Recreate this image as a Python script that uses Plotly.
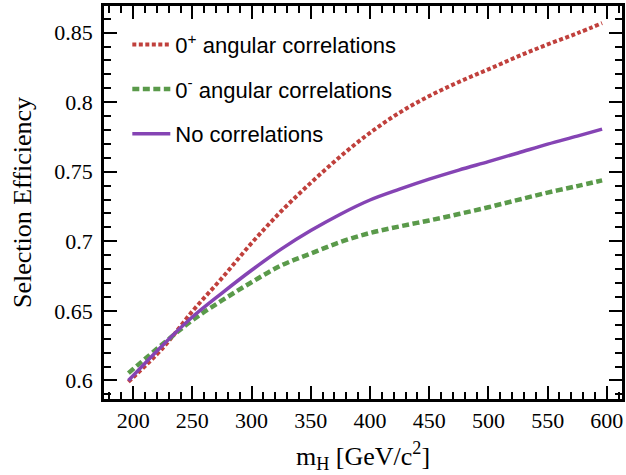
import plotly.graph_objects as go

# Higgs mass points [GeV/c^2]
mass = [196, 225, 250, 275, 300, 325, 350, 375, 400, 425, 450, 475, 500, 525, 550, 575, 596]

# Selection efficiency for each spin/parity hypothesis
eff_plus = [0.599, 0.6233, 0.6497, 0.6736, 0.6987, 0.7216, 0.7420, 0.7610, 0.7780,
            0.7925, 0.8044, 0.8145, 0.8236, 0.8329, 0.8415, 0.8495, 0.8568]
eff_minus = [0.6053, 0.6262, 0.6433, 0.6575, 0.6706, 0.6826, 0.6912, 0.6995, 0.7060,
             0.7107, 0.7150, 0.7196, 0.7245, 0.7298, 0.7350, 0.7397, 0.7438]
eff_none = [0.6000, 0.6254, 0.6456, 0.6628, 0.6792, 0.6944, 0.7077, 0.7195, 0.7297,
            0.7375, 0.7447, 0.7512, 0.7573, 0.7635, 0.7698, 0.7756, 0.7806]

labels = ["0<sup>+</sup> angular correlations",
          "0<sup>-</sup> angular correlations",
          "No correlations"]

fig = go.Figure()
fig.add_trace(go.Scatter(x=mass, y=eff_plus, mode="lines", name=labels[0], legendgroup="a",
                         line=dict(color="#c0403c", width=4, dash="4px,2.5px", shape="spline")))
fig.add_trace(go.Scatter(x=mass, y=eff_minus, mode="lines", name=labels[1], legendgroup="b",
                         line=dict(color="#5a9a4a", width=4.5, dash="7px,3.5px", shape="spline")))
fig.add_trace(go.Scatter(x=mass, y=eff_none, mode="lines", name=labels[2], legendgroup="c",
                         line=dict(color="#8544b4", width=3.5, shape="spline")))

axis_common = dict(
    showline=True, linecolor="black", linewidth=2.5, mirror="ticks",
    ticks="inside", ticklen=13, tickwidth=2, tickcolor="black",
    showgrid=False, zeroline=False,
    tickfont=dict(family="Liberation Serif", size=22, color="black"),
)

fig.update_xaxes(
    range=[175.4, 612.8], tick0=200, dtick=50,
    minor=dict(dtick=10, ticks="inside", ticklen=7, tickwidth=2, tickcolor="black"),
    title=dict(text="m<sub>H</sub> [GeV/c<sup>2</sup>]",
               font=dict(family="Liberation Serif", size=26, color="black"), standoff=15),
    ticklabelstandoff=0,
    **axis_common,
)
fig.update_yaxes(
    range=[0.5867, 0.8691], tick0=0.6, dtick=0.05,
    minor=dict(dtick=0.01, ticks="inside", ticklen=7, tickwidth=2, tickcolor="black"),
    title=dict(text="Selection Efficiency",
               font=dict(family="Liberation Serif", size=26, color="black"), standoff=16),
    ticklabelstandoff=4,
    **axis_common,
)

fig.update_layout(
    width=626, height=475,
    margin=dict(l=104, r=1, t=6, b=76),
    plot_bgcolor="white", paper_bgcolor="white",
    showlegend=True,
    legend=dict(x=0.045, y=0.955, xanchor="left", yanchor="top",
                bgcolor="rgba(0,0,0,0)", tracegroupgap=13, itemwidth=38,
                font=dict(family="Liberation Sans", size=22, color="black")),
)

fig.write_html("out.html")
